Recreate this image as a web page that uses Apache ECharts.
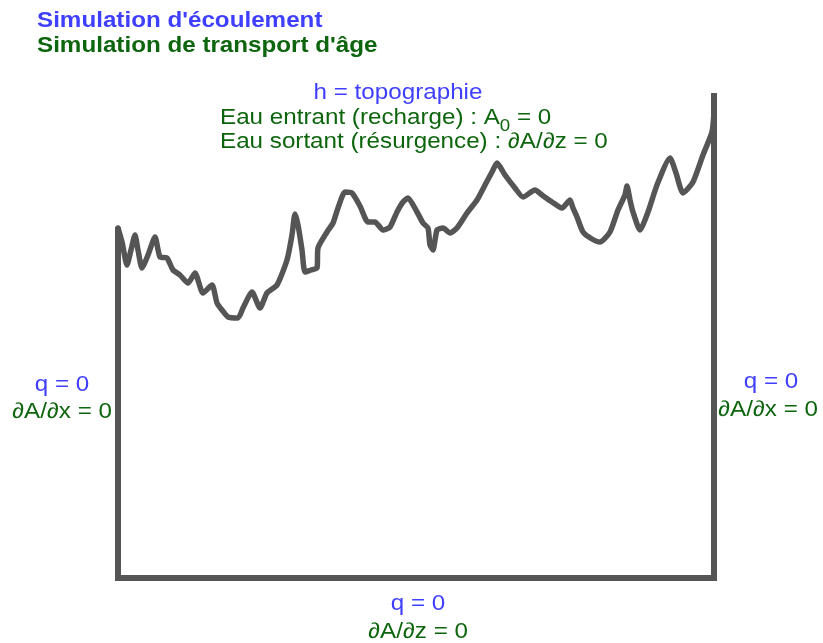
<!DOCTYPE html>
<html>
<head>
<meta charset="utf-8">
<script src="https://cdn.jsdelivr.net/npm/echarts@6/dist/echarts.min.js"></script>
<style>
html,body{margin:0;padding:0;background:#fff;}
#c{width:823px;height:643px;}
</style>
</head>
<body>
<div id="c"></div>
<script>
// Profile distance (x) and elevation (h)
const profileX = [0,4,9,13,17,20,24,30,37,42,49,55,62,70,77,85,94,99,104,110,120,125,134,142,149,159,169,174,177,180,184,187,193,199,200,209,215,220,227,234,242,250,257,265,272,279,285,290,299,305,310,312,315,319,325,332,339,349,359,367,374,379,387,397,405,417,424,434,444,452,455,459,465,474,482,492,500,507,509,512,515,522,530,539,552,558,565,575,585,594,596];
const profileH = [350,336,313,328,343,328,310,323,341,321,320,308,303,295,305,285,293,275,268,261,260,270,286,270,285,293,318,343,364,353,328,306,308,310,330,346,355,370,386,385,372,356,356,348,351,366,376,380,366,355,350,333,328,348,350,345,350,365,378,393,406,415,403,390,381,388,383,376,370,378,370,361,346,339,336,346,368,383,392,378,366,348,366,393,420,405,385,396,423,446,466];
// Domain boundary: left side, bottom, right side
const boundaryX = [0,0,596,596];
const boundaryH = [351,0,0,485];
const xMax = 596, hMax = 485;

const BLUE = '#3f3fff', GREEN = '#0d650d', GRAY = '#555555';
const FONT = '"Liberation Sans", Arial, sans-serif';
const SX = 1.1;

function txt(x, y, text, color, align, size, weight) {
  return {
    type: 'text', x: x, y: y, scaleX: SX, silent: true,
    style: { text: text, fill: color, align: align, verticalAlign: 'middle',
      font: (weight || 'normal') + ' ' + (size || 22) + 'px ' + FONT }
  };
}

const chart = echarts.init(document.getElementById('c'));
chart.setOption({
  animation: false,
  backgroundColor: '#ffffff',
  grid: { left: 118, right: 109, top: 93, bottom: 65 },
  xAxis: { type: 'value', min: 0, max: xMax, show: false },
  yAxis: { type: 'value', min: 0, max: hMax, show: false },
  series: [
    {
      type: 'line', data: profileX.map((x, i) => [x, profileH[i]]),
      symbol: 'none', smooth: 0.2,
      lineStyle: { color: GRAY, width: 5.5, join: 'round', cap: 'round' }
    },
    {
      type: 'line', data: boundaryX.map((x, i) => [x, boundaryH[i]]),
      symbol: 'none',
      lineStyle: { color: GRAY, width: 6, join: 'miter', cap: 'butt' }
    }
  ],
  graphic: [
    txt(37, 21, "Simulation d'écoulement", BLUE, 'left', 22, 'bold'),
    txt(37, 46, "Simulation de transport d'âge", GREEN, 'left', 22, 'bold'),
    txt(398, 93, 'h = topographie', BLUE, 'center'),
    {
      type: 'text', x: 220, y: 118, scaleX: SX, silent: true,
      style: {
        text: '{m|Eau entrant (recharge) : A}{s|0}{m| = 0}',
        verticalAlign: 'middle', align: 'left',
        rich: {
          m: { fill: GREEN, fontSize: 22, fontFamily: FONT },
          s: { fill: GREEN, fontSize: 17, fontFamily: FONT, padding: [16, 0, 0, 0] }
        }
      }
    },
    txt(220, 142, 'Eau sortant (résurgence) : ∂A/∂z = 0', GREEN, 'left'),
    txt(62, 385, 'q = 0', BLUE, 'center'),
    txt(62, 412, '∂A/∂x = 0', GREEN, 'center'),
    txt(771, 382, 'q = 0', BLUE, 'center'),
    txt(768, 410, '∂A/∂x = 0', GREEN, 'center'),
    txt(418, 604, 'q = 0', BLUE, 'center'),
    txt(418, 632, '∂A/∂z = 0', GREEN, 'center')
  ]
});
</script>
</body>
</html>
